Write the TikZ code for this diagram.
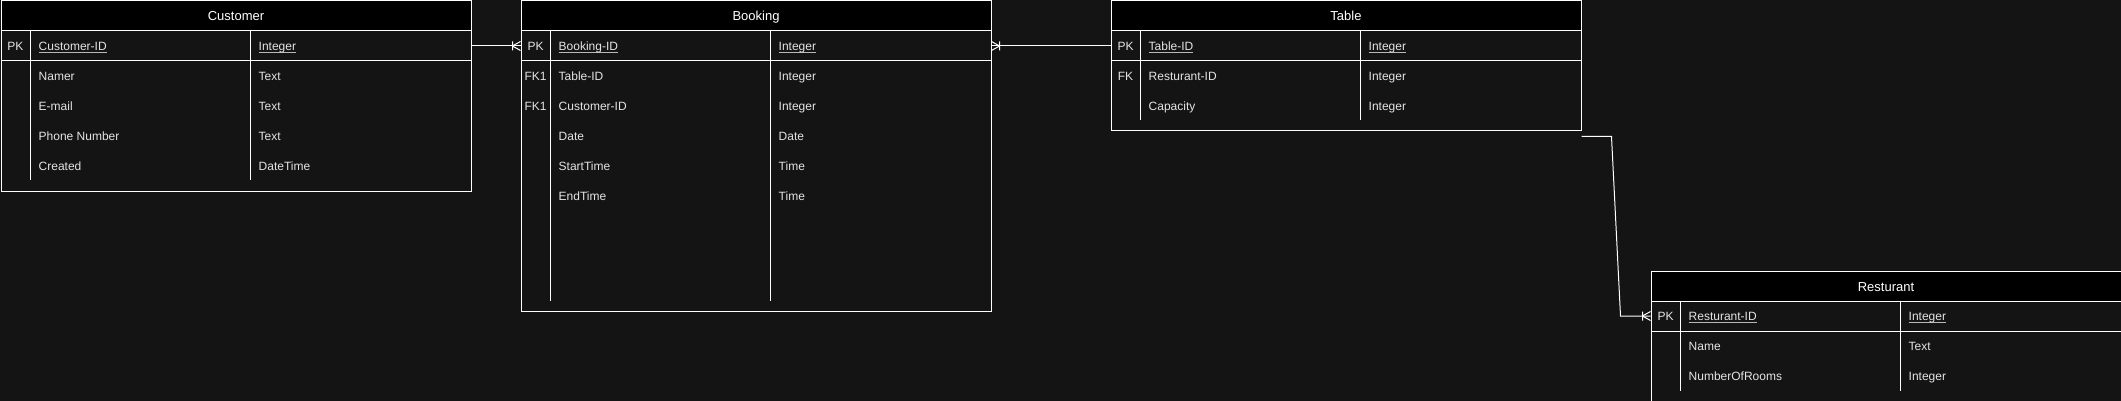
\documentclass[tikz,border=0pt]{standalone}
\usepackage{fontspec}
\setmainfont{Liberation Sans}
\usetikzlibrary{calc}
\definecolor{bg}{HTML}{141414}
\definecolor{ink}{HTML}{E4E4E4}
\definecolor{ulc}{HTML}{B8B8B8}
\newcommand\ulx[1]{\setbox0\hbox{#1}\rlap{\textcolor{ulc}{\rule[-2.6pt]{\wd0}{1.3pt}}}\box0}
\tikzset{
  ebox/.style={draw=white, fill=bg, line width=1pt, minimum width=470pt, inner sep=0pt},
  ehead/.style={draw=white, fill=black, line width=1pt, minimum width=470pt, minimum height=30pt, inner sep=0pt},
  epk/.style={draw=white, line width=1pt, minimum width=470pt, minimum height=30pt, inner sep=0pt},
  eline/.style={draw=white, line width=1pt},
  etitle/.style={text=white, font=\fontsize{13}{15}\selectfont, inner sep=0pt, text height=14pt, text depth=4pt},
  etext/.style={text=ink, font=\fontsize{12}{14}\selectfont, inner sep=0pt, text height=13pt, text depth=3pt},
  conn/.style={draw=white, line width=1pt},
}
% table frame: name, x0, y0, height, title, divider end (relative)
\newcommand\ertable[6]{%
  \node[ebox, minimum height=#4pt, anchor=north west] (#1) at (#2,#3) {};
  \node[ehead, anchor=north west] (#1-head) at (#2,#3) {};
  \node[etitle] (#1-title) at (#1-head.center) {#5};
  \node[epk, anchor=north west] (#1-pk) at (#2,#3+30) {};
  \draw[eline] (#2+30,#3+30) -- (#2+30,#3+#6);
  \draw[eline] (#2+250,#3+30) -- (#2+250,#3+#6);
}
% row: unique prefix, x0, row top y, key, name, type
\newcommand\errow[6]{%
  \node[etext] (#1k) at (#2+15,#3+15) {#4};
  \node[etext, anchor=west] (#1n) at (#2+38,#3+15) {#5};
  \node[etext, anchor=west] (#1t) at (#2+258,#3+15) {#6};
}
% crow's foot with bar: edge anchor, outward x direction
\newcommand\crow[2]{%
  \draw[conn] ($(#1)+(#2*8,0)$) -- ($(#1)+(0,4.5)$)
              ($(#1)+(#2*8,0)$) -- ($(#1)+(0,-4.5)$)
              ($(#1)+(#2*8,-4.5)$) -- ($(#1)+(#2*8,4.5)$);
}
\begin{document}
\begin{tikzpicture}[x=1pt, y=-1pt]
\fill[bg] (0,0) rectangle (2121,401);
\useasboundingbox (0,0) rectangle (2121,401);

% Customer
\ertable{customer}{0.5}{0.5}{190}{Customer}{180}
\errow{c1}{0.5}{30.5}{PK}{\ulx{Customer-ID}}{\ulx{Integer}}
\errow{c2}{0.5}{60.5}{}{Namer}{Text}
\errow{c3}{0.5}{90.5}{}{E-mail}{Text}
\errow{c4}{0.5}{120.5}{}{Phone Number}{Text}
\errow{c5}{0.5}{150.5}{}{Created}{DateTime}

% Booking
\ertable{booking}{520.5}{0.5}{310}{Booking}{300}
\errow{b1}{520.5}{30.5}{PK}{\ulx{Booking-ID}}{\ulx{Integer}}
\errow{b2}{520.5}{60.5}{FK1}{Table-ID}{Integer}
\errow{b3}{520.5}{90.5}{FK1}{Customer-ID}{Integer}
\errow{b4}{520.5}{120.5}{}{Date}{Date}
\errow{b5}{520.5}{150.5}{}{StartTime}{Time}
\errow{b6}{520.5}{180.5}{}{EndTime}{Time}

% Table
\ertable{table}{1110.5}{0.5}{130}{Table}{120}
\errow{t1}{1110.5}{30.5}{PK}{\ulx{Table-ID}}{\ulx{Integer}}
\errow{t2}{1110.5}{60.5}{FK}{Resturant-ID}{Integer}
\errow{t3}{1110.5}{90.5}{}{Capacity}{Integer}

% Resturant
\ertable{resturant}{1650.5}{270.5}{130}{Resturant}{120}
\errow{r1}{1650.5}{300.5}{PK}{\ulx{Resturant-ID}}{\ulx{Integer}}
\errow{r2}{1650.5}{330.5}{}{Name}{Text}
\errow{r3}{1650.5}{360.5}{}{NumberOfRooms}{Integer}

% connectors
\draw[conn] (customer-pk.east) -- (booking-pk.west);
\crow{booking-pk.west}{-1}
\draw[conn] (booking-pk.east) -- (table-pk.west);
\crow{booking-pk.east}{1}
\coordinate (t-exit) at ($(table.south east)+(0,5)$);
\coordinate (r-bend) at ($(resturant-pk.west)+(-30,0)$);
\draw[conn] (t-exit) -- ++(30,0) -- (r-bend) -- (resturant-pk.west);
\crow{resturant-pk.west}{-1}
\end{tikzpicture}
\end{document}
